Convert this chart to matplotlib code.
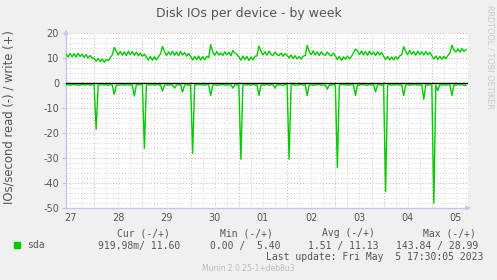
import matplotlib
matplotlib.use("Agg")
import matplotlib.pyplot as plt
import numpy as np
from matplotlib.ticker import FixedLocator, MultipleLocator

plt.rcParams['axes.unicode_minus'] = False

# hours since Apr 27 00:00
start_hour = 10
day_labels = ["27", "28", "29", "30", "01", "02", "03", "04", "05"]

write_vals = (
    # Apr 27 (10-23)
    [11.6, 10.4, 11.8, 10.5, 11.7, 10.4, 11.9, 10.6, 11.5, 10.2, 11.4, 10.0, 11.0, 9.9]
    # Apr 28
    + [9.9, 8.7, 9.8, 8.5, 9.6, 8.3, 9.4, 8.9, 10.1, 11.2, 14.2,
       12.8, 11.2, 12.6, 11.1, 12.5, 11.0, 12.7, 11.3, 12.6, 11.1, 12.3, 10.9, 11.9]
    # Apr 29
    + [10.7, 11.5, 10.4, 9.2, 10.6, 9.1, 10.5, 9.3, 10.5, 11.6, 14.6,
       12.6, 11.0, 12.5, 11.2, 12.7, 11.1, 12.4, 10.9, 12.6, 11.2, 12.2, 10.8, 11.8]
    # Apr 30
    + [10.6, 9.2, 10.7, 9.4, 10.8, 9.1, 10.5, 9.3, 10.7, 10.2, 15.3,
       12.5, 11.1, 12.6, 11.2, 12.0, 11.0, 12.5, 11.3, 12.3, 10.9, 13.0, 12.0, 11.4]
    # May 1
    + [10.5, 9.1, 10.8, 9.4, 10.6, 9.0, 10.4, 9.3, 10.7, 10.8, 14.8,
       12.7, 11.2, 12.5, 11.1, 12.8, 11.4, 11.0, 12.4, 11.3, 11.0, 11.9, 10.7, 11.7]
    # May 2
    + [11.1, 10.0, 11.2, 9.8, 10.9, 9.6, 10.6, 9.5, 10.7, 11.0, 15.0,
       12.6, 11.3, 12.9, 11.2, 12.4, 11.0, 12.5, 11.4, 11.1, 12.4, 11.3, 10.8, 12.0]
    # May 3
    + [10.8, 9.4, 10.7, 9.0, 10.5, 9.5, 10.8, 9.7, 10.6, 12.0, 13.6,
       12.9, 11.4, 12.8, 11.2, 12.6, 11.1, 12.7, 11.3, 12.4, 11.0, 12.5, 11.2, 12.2]
    # May 4
    + [10.7, 9.4, 10.6, 9.3, 10.4, 9.2, 10.5, 9.6, 10.8, 11.3, 14.5,
       12.7, 11.3, 13.0, 11.5, 12.6, 11.1, 12.8, 11.4, 12.5, 11.2, 12.6, 11.3, 12.3]
    # May 5 (0-17)
    + [10.9, 9.6, 10.8, 9.4, 10.6, 9.5, 10.7, 9.7, 11.0, 11.9, 15.1,
       13.2, 12.4, 13.6, 12.3, 13.8, 12.6, 13.4]
)

read_vals = (
    # Apr 27 (10-23)
    [-0.8, -0.6, -0.9, -0.7, -0.6, -0.8, -0.7, -0.9, -0.6, -0.8, -0.7, -0.6, -0.9, -0.7]
    # Apr 28
    + [-0.8, -18.5, -0.9, -0.7, -0.6, -0.8, -0.7, -0.9, -0.6, -0.8, -4.5,
       -1.0, -0.7, -0.8, -0.6, -0.9, -0.7, -0.8, -0.6, -0.9, -5.2, -0.8, -0.7, -0.6]
    # Apr 29
    + [-0.7, -26.1, -1.0, -0.6, -0.8, -0.7, -0.9, -0.6, -0.8, -0.7, -3.2,
       -0.9, -0.7, -0.8, -0.6, -0.9, -2.0, -0.7, -0.8, -0.6, -3.6, -0.8, -0.7, -0.9]
    # Apr 30
    + [-0.7, -28.1, -0.9, -0.7, -0.6, -0.8, -0.7, -0.9, -0.6, -0.8, -5.0,
       -0.8, -0.6, -0.9, -0.7, -0.8, -0.6, -0.9, -0.7, -0.8, -0.6, -2.0, -0.8, -0.7]
    # May 1
    + [-0.8, -30.5, -0.9, -0.6, -0.8, -0.7, -0.9, -0.6, -0.8, -0.7, -5.0,
       -0.9, -0.7, -0.8, -0.6, -0.9, -0.7, -0.8, -2.0, -0.6, -0.8, -0.7, -0.9, -0.6]
    # May 2
    + [-0.7, -30.5, -0.8, -0.6, -0.9, -0.7, -0.8, -0.6, -0.9, -0.7, -5.0,
       -0.8, -0.6, -0.9, -0.7, -0.8, -0.6, -0.9, -0.7, -0.8, -2.5, -0.7, -0.9, -0.6]
    # May 3
    + [-0.8, -33.9, -0.9, -0.7, -0.6, -0.8, -0.7, -0.9, -0.6, -0.8, -5.0,
       -0.7, -0.9, -0.6, -0.8, -0.7, -0.9, -0.6, -0.8, -0.7, -3.5, -0.8, -0.6, -0.9]
    # May 4
    + [-0.7, -43.5, -0.8, -0.6, -0.9, -0.7, -0.8, -0.6, -0.9, -0.7, -5.0,
       -0.8, -0.6, -0.9, -0.7, -0.8, -0.6, -0.9, -0.7, -0.8, -6.5, -0.7, -0.9, -0.6]
    # May 5 (0-17)
    + [-0.8, -48.1, -0.9, -3.0, -0.6, -0.8, -0.7, -0.9, -0.6, -0.8, -5.0,
       -0.7, -0.9, -0.6, -0.8, -0.7, -0.9, -0.9]
)

legend_name = "sda"
col_headers = ["Cur (-/+)", "Min (-/+)", "Avg (-/+)", "Max (-/+)"]
col_values = ["919.98m/ 11.60", "0.00 /  5.40", "1.51 / 11.13", "143.84 / 28.99"]
title = "Disk IOs per device - by week"
ylabel = "IOs/second read (-) / write (+)"
last_update = "Last update: Fri May  5 17:30:05 2023"
version = "Munin 2.0.25-1+deb8u3"
side_text = "RRDTOOL / TOBI OETIKER"

W, H = 497, 280
BG = "#F0F0F0"
GREEN = "#00CC00"
MAJ = "#F2A0A0"
MINC = "#D4D4D4"
AXC = "#C4C4F0"
TXT = "#555555"

fig = plt.figure(figsize=(W / 100, H / 100), dpi=100, facecolor=BG)
L, R, T, B = 66, 468, 33, 208
ax = fig.add_axes([L / W, 1 - B / H, (R - L) / W, (B - T) / H])
ax.set_facecolor("white")

hours_w = np.arange(start_hour, start_hour + len(write_vals))
hours_r = np.arange(start_hour, start_hour + len(read_vals))
ax.plot(hours_w, write_vals, color=GREEN, lw=1.0, zorder=4)
ax.plot(hours_r, read_vals, color=GREEN, lw=1.0, zorder=4)
ax.axhline(0, color="black", lw=1.0, zorder=3)

ax.set_xlim(10, 210)
ax.set_ylim(-50, 20)

# grid
ax.xaxis.set_major_locator(FixedLocator([24 * k for k in range(1, 9)]))
ax.xaxis.set_minor_locator(MultipleLocator(6))
ax.yaxis.set_major_locator(MultipleLocator(10))
ax.yaxis.set_minor_locator(MultipleLocator(2))
ax.grid(which="minor", color=MINC, ls=(0, (1, 2)), lw=0.7)
ax.grid(which="major", color=MAJ, ls=(0, (1, 2)), lw=0.7)
ax.set_axisbelow(True)

ax.tick_params(axis="x", which="both", length=0, labelbottom=False)
ax.tick_params(axis="y", which="major", length=3, color=AXC, labelsize=7,
               labelcolor=TXT, pad=2)
ax.tick_params(axis="y", which="minor", length=0)

for i, lab in enumerate(day_labels):
    ax.text(12 + 24 * i, -0.03, lab, transform=ax.get_xaxis_transform(),
            ha="center", va="top", fontsize=7, color=TXT)

for s in ["top", "right"]:
    ax.spines[s].set_visible(False)
for s in ["left", "bottom"]:
    ax.spines[s].set_color(AXC)
    ax.spines[s].set_linewidth(1.0)

# axis arrows
ax.annotate("", xy=(0, 1.035), xytext=(0, 0.98), xycoords="axes fraction",
            arrowprops=dict(arrowstyle="-|>", color=AXC, lw=1.0, mutation_scale=6),
            annotation_clip=False)
ax.annotate("", xy=(1.014, 0), xytext=(0.99, 0), xycoords="axes fraction",
            arrowprops=dict(arrowstyle="-|>", color=AXC, lw=1.0, mutation_scale=6),
            annotation_clip=False)

def fx(x):
    return x / W

def fy(y):
    return 1 - y / H

fig.text(fx(249), fy(13.5), title, ha="center", va="center", fontsize=9, color=TXT)
fig.text(fx(9), fy(117), ylabel, ha="center", va="center", rotation=90,
         fontsize=8.4, color=TXT)
fig.text(fx(490), fy(5), side_text, ha="center", va="top", rotation=270,
         fontsize=5.9, color="#C8C8C8")

mono = "DejaVu Sans Mono"
header_x = [117, 220, 322, 423]
value_x = [98, 210, 308, 396]
for hx, htxt in zip(header_x, col_headers):
    fig.text(fx(hx), fy(233), htxt, ha="left", va="center", fontsize=7,
             family=mono, color=TXT)
for vx, vtxt in zip(value_x, col_values):
    fig.text(fx(vx), fy(245.5), vtxt, ha="left", va="center", fontsize=7,
             family=mono, color=TXT)

fig.patches.append(plt.Rectangle((fx(14), fy(248)), 6 / W, 6 / H,
                                 transform=fig.transFigure, color=GREEN))
fig.text(fx(27), fy(245.5), legend_name, ha="left", va="center", fontsize=7,
         family=mono, color=TXT)
fig.text(fx(483), fy(257.5), last_update, ha="right", va="center", fontsize=7,
         family=mono, color=TXT)
fig.text(fx(248.5), fy(268.5), version, ha="center", va="center", fontsize=5.5,
         color="#BBBBBB")

fig.savefig("out.png", dpi=100, facecolor=BG)
